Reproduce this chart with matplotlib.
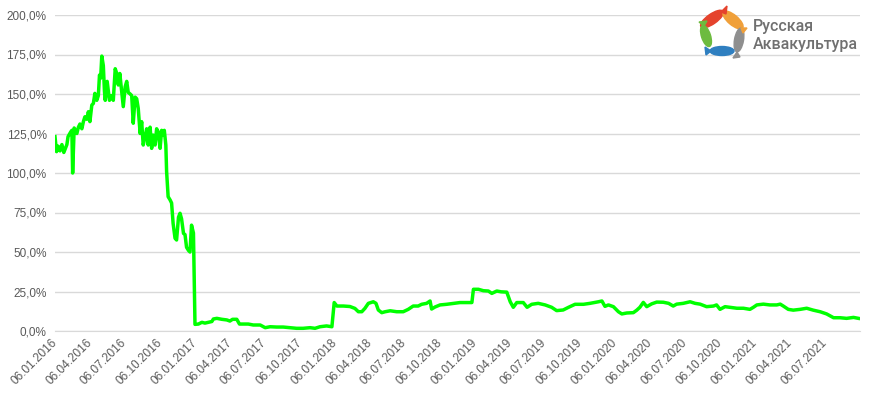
import matplotlib
matplotlib.use("Agg")
import matplotlib.pyplot as plt
import matplotlib.dates as mdates
from matplotlib.patches import Ellipse, Polygon
from matplotlib.ticker import FuncFormatter
import pandas as pd

dates = [
    "2016-01-06", "2016-01-10", "2016-01-14", "2016-01-19", "2016-01-24", "2016-01-29",
    "2016-02-06", "2016-02-09", "2016-02-16", "2016-02-19", "2016-02-21", "2016-02-25",
    "2016-03-03", "2016-03-07", "2016-03-11", "2016-03-16", "2016-03-20", "2016-03-24",
    "2016-03-29", "2016-04-02", "2016-04-06", "2016-04-11", "2016-04-15", "2016-04-19",
    "2016-04-24", "2016-04-28", "2016-05-01", "2016-05-04", "2016-05-07", "2016-05-11",
    "2016-05-14", "2016-05-16", "2016-05-21", "2016-05-27", "2016-06-02", "2016-06-06",
    "2016-06-11", "2016-06-15", "2016-06-19", "2016-06-23", "2016-06-28", "2016-07-02",
    "2016-07-07", "2016-07-11", "2016-07-15", "2016-07-20", "2016-07-24", "2016-07-28",
    "2016-08-02", "2016-08-06", "2016-08-10", "2016-08-15", "2016-08-19", "2016-08-23",
    "2016-08-28", "2016-09-01", "2016-09-05", "2016-09-10", "2016-09-14", "2016-09-18",
    "2016-09-23", "2016-09-27", "2016-10-01", "2016-10-06", "2016-10-10", "2016-10-14",
    "2016-10-17", "2016-10-21", "2016-10-23", "2016-10-27", "2016-11-01", "2016-11-05",
    "2016-11-09", "2016-11-14", "2016-11-18", "2016-11-23", "2016-11-27", "2016-12-01",
    "2016-12-06", "2016-12-10", "2016-12-14", "2016-12-19", "2016-12-23", "2016-12-27",
    "2017-01-01", "2017-01-05", "2017-01-14", "2017-01-23", "2017-01-31", "2017-02-09",
    "2017-02-18", "2017-02-22", "2017-03-03", "2017-03-16", "2017-03-29", "2017-04-06",
    "2017-04-13", "2017-04-24", "2017-05-01", "2017-05-11", "2017-05-24", "2017-06-06",
    "2017-06-24", "2017-07-07", "2017-07-20", "2017-08-06", "2017-08-23", "2017-09-10",
    "2017-09-27", "2017-10-14", "2017-11-01", "2017-11-14", "2017-11-27", "2017-12-14",
    "2017-12-28", "2018-01-03", "2018-01-10", "2018-01-27", "2018-02-13", "2018-02-26",
    "2018-03-07", "2018-03-16", "2018-03-24", "2018-04-02", "2018-04-15", "2018-04-22",
    "2018-04-28", "2018-05-07", "2018-05-16", "2018-05-29", "2018-06-15", "2018-07-02",
    "2018-07-15", "2018-07-28", "2018-08-10", "2018-08-19", "2018-09-01", "2018-09-10",
    "2018-09-14", "2018-09-23", "2018-10-06", "2018-10-23", "2018-11-10", "2018-11-27",
    "2018-12-15", "2018-12-28", "2019-01-01", "2019-01-14", "2019-01-27", "2019-02-09",
    "2019-02-18", "2019-03-03", "2019-03-14", "2019-03-29", "2019-04-07", "2019-04-15",
    "2019-04-24", "2019-05-11", "2019-05-21", "2019-06-02", "2019-06-19", "2019-07-07",
    "2019-07-24", "2019-08-06", "2019-08-23", "2019-09-06", "2019-09-23", "2019-10-15",
    "2019-11-01", "2019-11-23", "2019-12-02", "2019-12-10", "2019-12-19", "2020-01-01",
    "2020-01-14", "2020-01-23", "2020-02-05", "2020-02-22", "2020-03-02", "2020-03-10",
    "2020-03-19", "2020-03-28", "2020-04-10", "2020-04-23", "2020-05-10", "2020-05-24",
    "2020-06-05", "2020-06-14", "2020-07-01", "2020-07-19", "2020-08-01", "2020-08-14",
    "2020-08-31", "2020-09-18", "2020-09-26", "2020-10-05", "2020-10-18", "2020-10-31",
    "2020-11-18", "2020-12-05", "2020-12-22", "2020-12-31", "2021-01-09", "2021-01-26",
    "2021-02-12", "2021-03-02", "2021-03-11", "2021-03-19", "2021-04-01", "2021-04-14",
    "2021-05-02", "2021-05-19", "2021-06-05", "2021-06-23", "2021-07-10", "2021-07-28",
    "2021-08-14", "2021-08-31", "2021-09-18", "2021-10-01",
]
values = [
    123, 113.5, 117, 114, 118, 113,
    118, 123, 126, 127, 100, 128.5,
    125, 129, 131, 128, 132.5, 135.6,
    134, 138.8, 132.5, 143, 144, 150.4,
    146, 149, 162, 160, 174, 168,
    151.5, 146, 158, 146, 149, 146,
    166, 163, 155.7, 163, 151.5, 142,
    154.6, 158, 151, 150, 149, 131.5,
    148, 147, 141, 125, 132.5, 117.7,
    123, 128, 117.7, 129, 115.6, 124,
    117.7, 128, 126, 115.6, 127, 124,
    127, 117.7, 101, 85, 83, 81,
    68, 58.7, 57.6, 72, 74.5, 71,
    61.8, 61, 53, 51, 50, 67,
    62, 4.2, 4.4, 5.5, 5, 5.5,
    6, 7.6, 8, 7.4, 7, 6.3,
    7.4, 7.4, 4.4, 4.4, 4.4, 3.8,
    3.8, 2.1, 2.7, 2.5, 2.5, 2.1,
    1.7, 1.7, 2.1, 1.7, 2.7, 3.2,
    2.7, 18, 15.8, 15.8, 15.5, 14.3,
    12.2, 12.2, 14.3, 17.5, 18.5, 17.5,
    13.3, 11.6, 12.2, 12.8, 12.2, 12.2,
    13.7, 15.8, 15.8, 16.9, 17.5, 19,
    13.9, 15.2, 16.5, 16.9, 17.5, 18,
    18, 18, 26.4, 26.4, 25.5, 25.3,
    23.8, 25.3, 24.8, 24.6, 18.5, 15,
    18, 18, 15, 16.9, 17.5, 16.5,
    15, 12.9, 13.3, 15, 16.9, 16.9,
    17.5, 18.5, 19, 15.6, 16.5, 15.4,
    12.2, 10.8, 11.4, 11.6, 13.2, 15,
    18.1, 15.4, 17.2, 18.3, 18.2, 17.5,
    15.8, 17, 17.5, 18.5, 17.5, 17,
    15.4, 15.8, 16.5, 13.7, 15.4, 15,
    14.4, 14.4, 13.7, 15, 16.5, 17,
    16.5, 16.5, 17, 15.8, 13.7, 13.2,
    13.7, 14.4, 13.2, 12.2, 10.8, 8.4,
    8.4, 8, 8.6, 8,
]
tick_dates = [
    "2016-01-06", "2016-04-06", "2016-07-06", "2016-10-06",
    "2017-01-06", "2017-04-06", "2017-07-06", "2017-10-06",
    "2018-01-06", "2018-04-06", "2018-07-06", "2018-10-06",
    "2019-01-06", "2019-04-06", "2019-07-06", "2019-10-06",
    "2020-01-06", "2020-04-06", "2020-07-06", "2020-10-06",
    "2021-01-06", "2021-04-06", "2021-07-06",
]
logo_line1 = "Русская"
logo_line2 = "Аквакультура"

W, H = 884, 397
fig = plt.figure(figsize=(W / 100, H / 100), dpi=100)
ax = fig.add_axes([55 / W, 1 - 331 / H, 805 / W, 316 / H])

x = pd.to_datetime(dates)
ax.plot(x, values, color="#00ff00", lw=2.5, solid_joinstyle="round")

ax.set_ylim(0, 200)
ax.set_yticks(range(0, 201, 25))
ax.yaxis.set_major_formatter(FuncFormatter(lambda v, p: f"{v:.1f}%".replace(".", ",")))
ax.set_xlim(pd.Timestamp("2016-01-06"), pd.Timestamp("2021-10-05"))
ax.set_xticks(pd.to_datetime(tick_dates))
ax.xaxis.set_major_formatter(mdates.DateFormatter("%d.%m.%Y"))

ax.grid(axis="y", color="#d9d9d9", lw=1)
ax.set_axisbelow(True)
for s in ["top", "right", "left"]:
    ax.spines[s].set_visible(False)
ax.spines["bottom"].set_color("#d9d9d9")
ax.tick_params(axis="both", length=0, colors="#595959")
ax.tick_params(axis="y", pad=6)
ax.tick_params(axis="x", pad=7)
for lbl in ax.get_yticklabels():
    lbl.set_family("Liberation Sans")
    lbl.set_fontsize(8.5)
for lbl in ax.get_xticklabels():
    lbl.set_family("Liberation Sans")
    lbl.set_fontsize(8.5)
    lbl.set_rotation(45)
    lbl.set_ha("right")
    lbl.set_va("center")
    lbl.set_rotation_mode("anchor")

# logo drawn in pixel coordinates
lg = fig.add_axes([0, 0, 1, 1])
lg.set_xlim(0, W)
lg.set_ylim(H, 0)
lg.axis("off")
fish = [
    ((712, 19), 27, 10, -35, "#e5432d"),
    ((733, 20), 25, 10, 40, "#f0a03a"),
    ((739, 40), 24, 9, 100, "#8f8f8f"),
    ((722, 51), 24, 9, 0, "#2f7fc0"),
    ((706, 36), 22, 9, 72, "#6dbb3f"),
]
for (cx, cy), w, h, ang, col in fish:
    lg.add_patch(Ellipse((cx, cy), w, h, angle=ang, color=col))
tails = [
    ([(721, 12), (727, 6), (726, 14)], "#e5432d"),
    ([(741, 28), (747, 28), (743, 33)], "#f0a03a"),
    ([(737, 52), (733, 58), (740, 57)], "#8f8f8f"),
    ([(711, 51), (705, 47), (706, 55)], "#2f7fc0"),
    ([(704, 26), (699, 22), (707, 21)], "#6dbb3f"),
]
for pts, col in tails:
    lg.add_patch(Polygon(pts, closed=True, color=col))
lg.text(753, 27, logo_line1, fontsize=11.5, color="#707070", fontweight="medium",
        family="Roboto", va="center")
lg.text(753, 45, logo_line2, fontsize=11.5, color="#707070", fontweight="medium",
        family="Roboto", va="center")

fig.savefig("out.png", dpi=100)
